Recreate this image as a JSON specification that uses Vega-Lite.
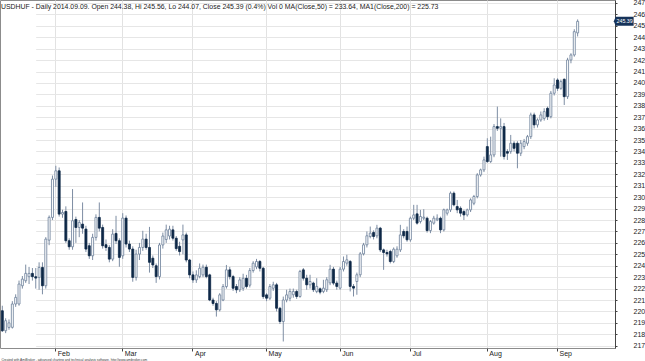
{
  "$schema": "https://vega.github.io/schema/vega-lite/v6.json",
  "width": 615,
  "height": 348,
  "autosize": "none",
  "padding": {"left": 0, "top": 0, "right": 30, "bottom": 13},
  "background": "white",
  "config": {"view": {"stroke": "#8c8c8c", "strokeWidth": 1}, "font": "Liberation Sans"},
  "title": {
    "text": "USDHUF - Daily 2014.09.09. Open 244.38, Hi 245.56, Lo 244.07, Close 245.39 (0.4%) Vol 0 MA(Close,50) = 233.64, MA1(Close,200) = 225.73",
    "anchor": "start", "fontSize": 6.9, "fontWeight": "normal", "color": "#222222", "dy": 12, "dx": 1, "offset": 0
  },
  "data": {"values": [
    {"d":"2014-01-10","o":220.06,"h":220.5,"l":218.2,"c":218.31},
    {"d":"2014-01-13","o":218.31,"h":219.4,"l":218.1,"c":219.19},
    {"d":"2014-01-14","o":218.6,"h":219.3,"l":218.4,"c":219.0},
    {"d":"2014-01-15","o":218.61,"h":220.9,"l":218.5,"c":220.65},
    {"d":"2014-01-16","o":220.65,"h":221.5,"l":220.4,"c":221.23},
    {"d":"2014-01-17","o":220.65,"h":222.7,"l":220.5,"c":222.4},
    {"d":"2014-01-20","o":222.25,"h":223.1,"l":222.0,"c":222.83},
    {"d":"2014-01-21","o":222.69,"h":224.1,"l":222.5,"c":223.33},
    {"d":"2014-01-22","o":223.04,"h":223.9,"l":222.4,"c":223.33},
    {"d":"2014-01-23","o":223.33,"h":223.8,"l":222.7,"c":223.04},
    {"d":"2014-01-24","o":223.04,"h":223.8,"l":222.0,"c":222.92},
    {"d":"2014-01-27","o":222.98,"h":224.3,"l":221.9,"c":223.85},
    {"d":"2014-01-28","o":223.85,"h":224.3,"l":221.5,"c":222.25},
    {"d":"2014-01-29","o":222.25,"h":226.5,"l":222.0,"c":226.33},
    {"d":"2014-01-30","o":226.24,"h":228.4,"l":225.8,"c":228.23},
    {"d":"2014-01-31","o":228.23,"h":231.9,"l":228.0,"c":231.58},
    {"d":"2014-02-03","o":231.58,"h":232.75,"l":230.9,"c":232.31},
    {"d":"2014-02-04","o":232.31,"h":232.6,"l":228.3,"c":228.52},
    {"d":"2014-02-05","o":228.52,"h":228.9,"l":228.2,"c":228.66},
    {"d":"2014-02-06","o":228.75,"h":229.2,"l":226.0,"c":226.19},
    {"d":"2014-02-07","o":226.19,"h":226.4,"l":225.4,"c":225.66},
    {"d":"2014-02-10","o":225.66,"h":230.71,"l":225.4,"c":227.94},
    {"d":"2014-02-11","o":228.05,"h":228.3,"l":226.0,"c":227.35},
    {"d":"2014-02-12","o":227.35,"h":228.0,"l":226.5,"c":227.79},
    {"d":"2014-02-13","o":227.64,"h":229.54,"l":226.8,"c":227.29},
    {"d":"2014-02-14","o":227.21,"h":227.5,"l":225.2,"c":225.46},
    {"d":"2014-02-17","o":225.75,"h":226.0,"l":224.6,"c":224.87},
    {"d":"2014-02-18","o":224.87,"h":226.8,"l":224.5,"c":226.48},
    {"d":"2014-02-19","o":226.48,"h":228.5,"l":226.2,"c":228.23},
    {"d":"2014-02-20","o":228.23,"h":229.54,"l":227.0,"c":227.29},
    {"d":"2014-02-21","o":227.35,"h":227.6,"l":225.5,"c":225.75},
    {"d":"2014-02-24","o":225.84,"h":226.3,"l":225.3,"c":225.6},
    {"d":"2014-02-25","o":225.6,"h":225.8,"l":224.3,"c":224.58},
    {"d":"2014-02-26","o":224.58,"h":227.2,"l":224.4,"c":226.77},
    {"d":"2014-02-27","o":226.83,"h":228.37,"l":225.9,"c":226.19},
    {"d":"2014-02-28","o":226.19,"h":226.4,"l":223.91,"c":224.73},
    {"d":"2014-03-03","o":224.87,"h":228.6,"l":224.6,"c":228.17},
    {"d":"2014-03-04","o":228.17,"h":228.4,"l":225.6,"c":225.9},
    {"d":"2014-03-05","o":225.9,"h":226.2,"l":225.2,"c":225.46},
    {"d":"2014-03-06","o":225.46,"h":225.7,"l":222.6,"c":222.98},
    {"d":"2014-03-07","o":222.98,"h":225.4,"l":222.7,"c":225.02},
    {"d":"2014-03-10","o":225.02,"h":226.0,"l":224.5,"c":225.6},
    {"d":"2014-03-11","o":225.6,"h":227.06,"l":225.3,"c":226.33},
    {"d":"2014-03-12","o":226.33,"h":226.8,"l":225.4,"c":225.6},
    {"d":"2014-03-13","o":225.6,"h":227.4,"l":223.4,"c":224.3},
    {"d":"2014-03-14","o":224.66,"h":224.9,"l":223.8,"c":224.07},
    {"d":"2014-03-17","o":224.0,"h":224.2,"l":222.5,"c":223.05},
    {"d":"2014-03-18","o":223.05,"h":226.0,"l":222.8,"c":225.82},
    {"d":"2014-03-19","o":225.82,"h":226.9,"l":225.5,"c":226.6},
    {"d":"2014-03-20","o":226.3,"h":227.6,"l":226.0,"c":227.14},
    {"d":"2014-03-21","o":226.6,"h":227.5,"l":226.3,"c":227.2},
    {"d":"2014-03-24","o":227.14,"h":227.5,"l":226.2,"c":226.41},
    {"d":"2014-03-25","o":226.41,"h":226.6,"l":225.3,"c":225.5},
    {"d":"2014-03-26","o":225.7,"h":226.1,"l":224.9,"c":225.24},
    {"d":"2014-03-27","o":226.26,"h":227.6,"l":225.0,"c":226.7},
    {"d":"2014-03-28","o":226.7,"h":226.9,"l":224.3,"c":224.5},
    {"d":"2014-03-31","o":224.5,"h":224.6,"l":222.9,"c":223.2},
    {"d":"2014-04-01","o":223.2,"h":223.5,"l":222.5,"c":222.76},
    {"d":"2014-04-02","o":222.76,"h":223.6,"l":222.5,"c":223.2},
    {"d":"2014-04-03","o":223.05,"h":224.2,"l":222.9,"c":223.78},
    {"d":"2014-04-04","o":223.2,"h":224.1,"l":223.0,"c":223.87},
    {"d":"2014-04-07","o":223.87,"h":224.1,"l":222.9,"c":223.05},
    {"d":"2014-04-08","o":223.2,"h":223.3,"l":220.9,"c":221.0},
    {"d":"2014-04-09","o":221.0,"h":221.2,"l":220.5,"c":220.7},
    {"d":"2014-04-10","o":220.7,"h":220.9,"l":219.55,"c":220.14},
    {"d":"2014-04-11","o":220.14,"h":221.6,"l":220.0,"c":221.45},
    {"d":"2014-04-14","o":221.0,"h":222.4,"l":220.9,"c":222.18},
    {"d":"2014-04-15","o":222.18,"h":224.07,"l":222.0,"c":223.64},
    {"d":"2014-04-16","o":223.64,"h":223.9,"l":222.8,"c":223.05},
    {"d":"2014-04-17","o":223.05,"h":223.2,"l":221.8,"c":222.03},
    {"d":"2014-04-18","o":222.18,"h":222.4,"l":221.6,"c":221.89},
    {"d":"2014-04-21","o":221.89,"h":223.0,"l":221.7,"c":222.76},
    {"d":"2014-04-22","o":222.03,"h":223.3,"l":221.8,"c":222.9},
    {"d":"2014-04-23","o":222.9,"h":223.2,"l":222.0,"c":222.18},
    {"d":"2014-04-24","o":222.3,"h":223.8,"l":222.1,"c":223.58},
    {"d":"2014-04-25","o":223.58,"h":224.4,"l":223.4,"c":224.22},
    {"d":"2014-04-28","o":223.9,"h":224.6,"l":223.7,"c":224.37},
    {"d":"2014-04-29","o":224.37,"h":224.5,"l":223.5,"c":223.78},
    {"d":"2014-04-30","o":223.78,"h":223.9,"l":221.1,"c":221.3},
    {"d":"2014-05-01","o":221.45,"h":221.6,"l":220.9,"c":221.16},
    {"d":"2014-05-02","o":221.16,"h":222.4,"l":221.0,"c":222.18},
    {"d":"2014-05-05","o":222.03,"h":222.6,"l":221.8,"c":222.33},
    {"d":"2014-05-06","o":222.33,"h":222.5,"l":220.0,"c":220.28},
    {"d":"2014-05-07","o":220.28,"h":220.4,"l":218.9,"c":219.12},
    {"d":"2014-05-08","o":219.12,"h":221.3,"l":217.37,"c":221.0},
    {"d":"2014-05-09","o":221.0,"h":221.9,"l":220.8,"c":221.45},
    {"d":"2014-05-12","o":221.16,"h":222.0,"l":220.9,"c":221.75},
    {"d":"2014-05-13","o":221.46,"h":222.0,"l":221.2,"c":221.75},
    {"d":"2014-05-14","o":221.75,"h":221.9,"l":221.1,"c":221.31},
    {"d":"2014-05-15","o":221.31,"h":223.64,"l":221.2,"c":223.5},
    {"d":"2014-05-16","o":223.64,"h":223.8,"l":222.7,"c":222.91},
    {"d":"2014-05-19","o":222.91,"h":223.21,"l":221.9,"c":222.33},
    {"d":"2014-05-20","o":222.33,"h":223.21,"l":222.0,"c":222.62},
    {"d":"2014-05-21","o":222.48,"h":222.6,"l":221.7,"c":221.9},
    {"d":"2014-05-22","o":221.75,"h":222.91,"l":221.6,"c":222.19},
    {"d":"2014-05-23","o":221.98,"h":222.1,"l":221.5,"c":221.69},
    {"d":"2014-05-26","o":221.75,"h":222.77,"l":221.6,"c":222.04},
    {"d":"2014-05-27","o":221.9,"h":223.0,"l":221.7,"c":222.77},
    {"d":"2014-05-28","o":222.5,"h":224.08,"l":222.3,"c":223.7},
    {"d":"2014-05-29","o":223.7,"h":223.9,"l":222.3,"c":222.48},
    {"d":"2014-05-30","o":222.48,"h":222.7,"l":221.9,"c":222.19},
    {"d":"2014-06-02","o":222.04,"h":223.9,"l":221.9,"c":223.7},
    {"d":"2014-06-03","o":223.7,"h":224.81,"l":223.5,"c":224.37},
    {"d":"2014-06-04","o":224.23,"h":224.96,"l":224.0,"c":224.52},
    {"d":"2014-06-05","o":224.37,"h":224.5,"l":221.75,"c":222.19},
    {"d":"2014-06-06","o":222.19,"h":222.4,"l":221.31,"c":222.04},
    {"d":"2014-06-09","o":222.62,"h":223.4,"l":221.46,"c":223.21},
    {"d":"2014-06-10","o":223.21,"h":225.2,"l":223.0,"c":225.04},
    {"d":"2014-06-11","o":225.04,"h":226.0,"l":224.9,"c":225.83},
    {"d":"2014-06-12","o":225.83,"h":227.0,"l":225.6,"c":226.62},
    {"d":"2014-06-13","o":226.56,"h":227.43,"l":226.4,"c":226.85},
    {"d":"2014-06-16","o":226.91,"h":227.1,"l":226.3,"c":226.56},
    {"d":"2014-06-17","o":226.62,"h":227.58,"l":226.4,"c":227.29},
    {"d":"2014-06-18","o":227.29,"h":227.4,"l":225.2,"c":225.39},
    {"d":"2014-06-19","o":225.39,"h":225.5,"l":223.64,"c":225.16},
    {"d":"2014-06-20","o":225.16,"h":225.4,"l":224.8,"c":225.04},
    {"d":"2014-06-23","o":225.25,"h":225.4,"l":224.2,"c":224.37},
    {"d":"2014-06-24","o":224.37,"h":225.6,"l":224.23,"c":225.45},
    {"d":"2014-06-25","o":224.87,"h":225.7,"l":224.7,"c":225.45},
    {"d":"2014-06-26","o":225.39,"h":227.58,"l":225.2,"c":226.7},
    {"d":"2014-06-27","o":227.0,"h":227.2,"l":226.4,"c":226.62},
    {"d":"2014-06-30","o":227.0,"h":227.43,"l":226.1,"c":226.27},
    {"d":"2014-07-01","o":226.27,"h":228.3,"l":226.1,"c":228.16},
    {"d":"2014-07-02","o":228.16,"h":229.33,"l":228.0,"c":228.45},
    {"d":"2014-07-03","o":228.54,"h":229.33,"l":227.6,"c":227.73},
    {"d":"2014-07-04","o":227.87,"h":228.89,"l":227.7,"c":228.31},
    {"d":"2014-07-07","o":228.16,"h":228.95,"l":228.0,"c":228.25},
    {"d":"2014-07-08","o":228.16,"h":228.3,"l":226.9,"c":227.08},
    {"d":"2014-07-09","o":227.08,"h":228.0,"l":226.85,"c":227.87},
    {"d":"2014-07-10","o":227.73,"h":228.37,"l":227.6,"c":228.16},
    {"d":"2014-07-11","o":228.02,"h":228.5,"l":227.9,"c":228.16},
    {"d":"2014-07-14","o":228.16,"h":228.3,"l":226.85,"c":227.14},
    {"d":"2014-07-15","o":227.14,"h":229.0,"l":227.0,"c":228.9},
    {"d":"2014-07-16","o":228.6,"h":229.0,"l":228.4,"c":228.89},
    {"d":"2014-07-17","o":228.89,"h":230.5,"l":228.7,"c":230.35},
    {"d":"2014-07-18","o":230.35,"h":230.5,"l":229.2,"c":229.33},
    {"d":"2014-07-21","o":229.18,"h":229.76,"l":228.6,"c":228.89},
    {"d":"2014-07-22","o":229.03,"h":229.2,"l":228.3,"c":228.6},
    {"d":"2014-07-23","o":228.74,"h":228.9,"l":228.0,"c":228.45},
    {"d":"2014-07-24","o":228.45,"h":229.0,"l":228.3,"c":228.89},
    {"d":"2014-07-25","o":228.89,"h":229.9,"l":228.7,"c":229.76},
    {"d":"2014-07-28","o":229.47,"h":230.2,"l":229.3,"c":230.06},
    {"d":"2014-07-29","o":230.06,"h":232.1,"l":229.9,"c":231.95},
    {"d":"2014-07-30","o":231.95,"h":232.5,"l":231.8,"c":232.39},
    {"d":"2014-07-31","o":232.39,"h":233.55,"l":232.2,"c":233.26},
    {"d":"2014-08-01","o":234.43,"h":235.16,"l":233.0,"c":233.12},
    {"d":"2014-08-04","o":233.12,"h":235.3,"l":233.0,"c":233.7},
    {"d":"2014-08-05","o":233.7,"h":236.4,"l":233.5,"c":236.18},
    {"d":"2014-08-06","o":236.18,"h":237.93,"l":235.8,"c":236.03},
    {"d":"2014-08-07","o":236.03,"h":236.9,"l":233.55,"c":236.18},
    {"d":"2014-08-08","o":236.18,"h":236.5,"l":233.3,"c":233.56},
    {"d":"2014-08-11","o":233.99,"h":234.2,"l":233.26,"c":233.85},
    {"d":"2014-08-12","o":233.99,"h":235.45,"l":233.8,"c":234.72},
    {"d":"2014-08-13","o":234.72,"h":234.9,"l":234.0,"c":234.28},
    {"d":"2014-08-14","o":234.72,"h":234.9,"l":232.53,"c":233.85},
    {"d":"2014-08-15","o":233.85,"h":235.0,"l":233.6,"c":234.72},
    {"d":"2014-08-18","o":234.43,"h":235.1,"l":234.2,"c":234.87},
    {"d":"2014-08-19","o":234.72,"h":235.45,"l":234.5,"c":235.3},
    {"d":"2014-08-20","o":235.3,"h":237.4,"l":235.1,"c":237.2},
    {"d":"2014-08-21","o":237.2,"h":237.4,"l":236.03,"c":236.33},
    {"d":"2014-08-22","o":236.33,"h":236.9,"l":236.1,"c":236.76},
    {"d":"2014-08-25","o":236.76,"h":237.5,"l":236.6,"c":237.2},
    {"d":"2014-08-26","o":236.9,"h":237.78,"l":236.7,"c":237.49},
    {"d":"2014-08-27","o":237.78,"h":237.93,"l":236.76,"c":237.05},
    {"d":"2014-08-28","o":237.05,"h":239.3,"l":236.9,"c":239.1},
    {"d":"2014-08-29","o":239.1,"h":240.41,"l":238.9,"c":239.82},
    {"d":"2014-09-01","o":240.26,"h":240.41,"l":239.3,"c":239.53},
    {"d":"2014-09-02","o":239.53,"h":240.3,"l":239.4,"c":240.12},
    {"d":"2014-09-03","o":240.32,"h":240.4,"l":238.07,"c":238.8},
    {"d":"2014-09-04","o":238.8,"h":242.2,"l":238.6,"c":242.01},
    {"d":"2014-09-05","o":242.01,"h":242.6,"l":241.72,"c":242.45},
    {"d":"2014-09-08","o":242.45,"h":244.7,"l":242.3,"c":244.49},
    {"d":"2014-09-09","o":244.38,"h":245.56,"l":244.07,"c":245.39}
  ]},
  "encoding": {
    "x": {
      "field": "d", "type": "ordinal", "sort": null,
      "scale": {"paddingInner": 0, "paddingOuter": 0, "range": [0.63, 579.3]},
      "axis": {
        "values": ["2014-02-03","2014-03-03","2014-04-01","2014-05-01","2014-06-02","2014-07-01","2014-08-01","2014-09-01"],
        "labelExpr": "utcFormat(toDate(datum.value), '%b')",
        "bandPosition": 0.5,
        "labelAngle": 0, "labelAlign": "left", "labelBaseline": "top", "labelOffset": 2, "labelPadding": -1.5,
        "labelFontSize": 7, "labelColor": "#222222", "labelOverlap": false, "labelFlush": false,
        "tickSize": 3, "tickColor": "#444444", "domain": false,
        "grid": true, "gridColor": "#e2e2e2",
        "title": "Created with AmiBroker - advanced charting and technical analysis software. http://www.amibroker.com",
        "titleFontSize": 3.2, "titleFontWeight": "normal", "titleAnchor": "start", "titleAlign": "left", "titlePadding": 0.5, "titleColor": "#333333", "titleX": 1
      }
    }
  },
  "layer": [
    {
      "mark": {"type": "rule", "color": "#7d8da3", "strokeWidth": 1},
      "encoding": {
        "y": {
          "field": "l", "type": "quantitative",
          "scale": {"domain": [216.8, 247.26], "nice": false, "zero": false},
          "axis": {
            "orient": "right", "title": null, "tickCount": 31,
            "values": [217,218,219,220,221,222,223,224,225,226,227,228,229,230,231,232,233,234,235,236,237,238,239,240,241,242,243,244,245,246,247],
            "labelFontSize": 7, "labelColor": "#222222", "labelPadding": 16, "labelFlush": false, "labelOverlap": false,
            "tickSize": 2, "tickColor": "#444444", "domainColor": "#444444",
            "grid": true, "gridColor": "#e6e6e6"
          }
        },
        "y2": {"field": "h"}
      }
    },
    {
      "mark": {"type": "bar", "size": 2, "strokeWidth": 0.8},
      "encoding": {
        "y": {
          "field": "o", "type": "quantitative",
          "scale": {"domain": [216.8, 247.26], "nice": false, "zero": false},
          "axis": {
            "orient": "right", "title": null, "tickCount": 31,
            "values": [217,218,219,220,221,222,223,224,225,226,227,228,229,230,231,232,233,234,235,236,237,238,239,240,241,242,243,244,245,246,247],
            "labelFontSize": 7, "labelColor": "#222222", "labelPadding": 16, "labelFlush": false, "labelOverlap": false,
            "tickSize": 2, "tickColor": "#444444", "domainColor": "#444444",
            "grid": true, "gridColor": "#e6e6e6"
          }
        },
        "y2": {"field": "c"},
        "fill": {"condition": {"test": "datum.c >= datum.o", "value": "#ffffff"}, "value": "#0e2847"},
        "stroke": {"condition": {"test": "datum.c >= datum.o", "value": "#6b7f99"}, "value": "#0e2847"}
      }
    },
    {
      "mark": {"type": "rule", "color": "#444444", "strokeWidth": 1},
      "encoding": {
        "y": {
          "datum": 216.8, "type": "quantitative",
          "scale": {"domain": [216.8, 247.26], "nice": false, "zero": false},
          "axis": {
            "orient": "right", "title": null, "tickCount": 31,
            "values": [217,218,219,220,221,222,223,224,225,226,227,228,229,230,231,232,233,234,235,236,237,238,239,240,241,242,243,244,245,246,247],
            "labelFontSize": 7, "labelColor": "#222222", "labelPadding": 16, "labelFlush": false, "labelOverlap": false,
            "tickSize": 2, "tickColor": "#444444", "domainColor": "#444444",
            "grid": true, "gridColor": "#e6e6e6"
          }
        }
      }
    },
    {
      "transform": [{"filter": "datum.d == '2014-09-09'"}],
      "mark": {"type": "point", "shape": "M-1,-0.5L1,-0.5L1,0.5L-1,0.5L-1.2,0Z", "size": 324, "filled": true, "color": "#16335a", "opacity": 1, "xOffset": 47},
      "encoding": {
        "y": {
          "field": "c", "type": "quantitative",
          "scale": {"domain": [216.8, 247.26], "nice": false, "zero": false},
          "axis": {
            "orient": "right", "title": null, "tickCount": 31,
            "values": [217,218,219,220,221,222,223,224,225,226,227,228,229,230,231,232,233,234,235,236,237,238,239,240,241,242,243,244,245,246,247],
            "labelFontSize": 7, "labelColor": "#222222", "labelPadding": 16, "labelFlush": false, "labelOverlap": false,
            "tickSize": 2, "tickColor": "#444444", "domainColor": "#444444",
            "grid": true, "gridColor": "#e6e6e6"
          }
        }
      }
    },
    {
      "transform": [{"filter": "datum.d == '2014-09-09'"}],
      "mark": {"type": "text", "color": "#ffffff", "fontSize": 5.3, "dx": 47, "align": "center", "baseline": "middle"},
      "encoding": {
        "y": {
          "field": "c", "type": "quantitative",
          "scale": {"domain": [216.8, 247.26], "nice": false, "zero": false},
          "axis": {
            "orient": "right", "title": null, "tickCount": 31,
            "values": [217,218,219,220,221,222,223,224,225,226,227,228,229,230,231,232,233,234,235,236,237,238,239,240,241,242,243,244,245,246,247],
            "labelFontSize": 7, "labelColor": "#222222", "labelPadding": 16, "labelFlush": false, "labelOverlap": false,
            "tickSize": 2, "tickColor": "#444444", "domainColor": "#444444",
            "grid": true, "gridColor": "#e6e6e6"
          }
        },
        "text": {"field": "c", "type": "quantitative", "format": ".2f"}
      }
    }
  ]
}
